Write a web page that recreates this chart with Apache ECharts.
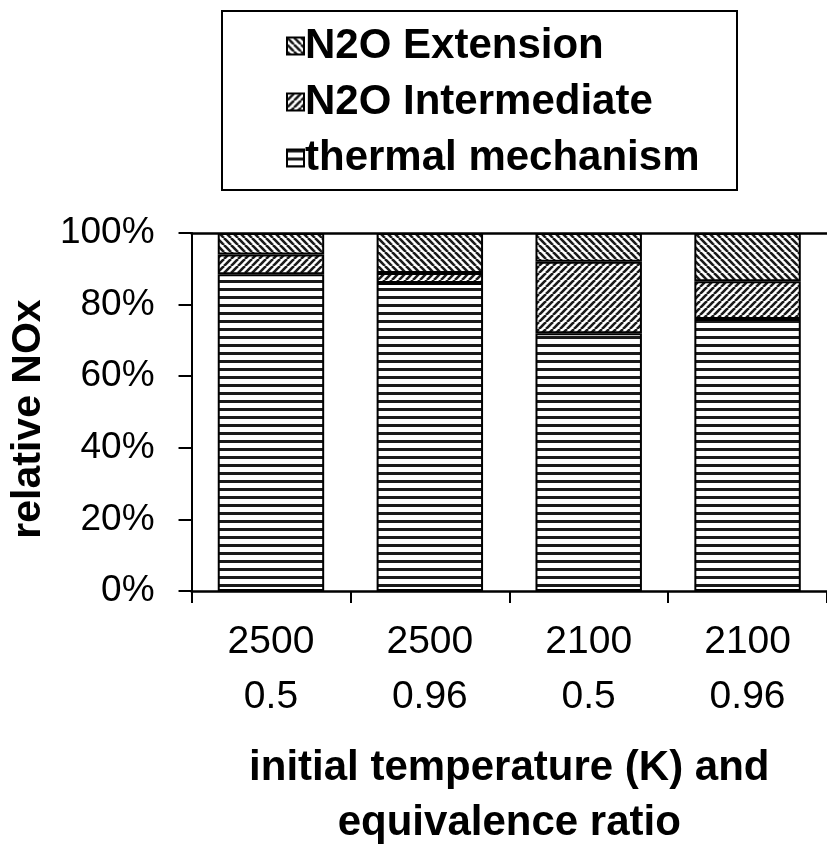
<!DOCTYPE html>
<html>
<head>
<meta charset="utf-8">
<script src="https://cdn.jsdelivr.net/npm/echarts@6/dist/echarts.min.js"></script>
<style>
html,body{margin:0;padding:0;background:#fff;overflow:hidden;}
#main{width:827px;height:852px;}
</style>
</head>
<body>
<div id="main"></div>
<script>
// ---- data ----
const temperatures = ['2500', '2500', '2100', '2100'];
const ratios = ['0.5', '0.96', '0.5', '0.96'];
const thermal = [88.5, 86, 72, 76];
const intermediate = [5.5, 2.8, 20, 10.5];
const extension = [6, 11.2, 8, 13.5];
const yTicks = [0, 20, 40, 60, 80, 100];
const seriesNames = ['thermal mechanism', 'N2O Intermediate', 'N2O Extension'];
const legendOrder = ['N2O Extension', 'N2O Intermediate', 'thermal mechanism'];

const categories = temperatures.map((t, i) => t + '\n' + ratios[i]);
const FONT = "'Liberation Sans', Arial, Helvetica, sans-serif";

// ---- hatch patterns ----
function hStripes() {
  const c = document.createElement('canvas');
  c.width = 8; c.height = 8;
  const g = c.getContext('2d');
  g.fillStyle = '#fff'; g.fillRect(0, 0, 8, 8);
  g.fillStyle = '#1a1a1a'; g.fillRect(0, 0, 8, 3);
  return c;
}
function diag(dir, p, w) {
  const c = document.createElement('canvas');
  c.width = p; c.height = p;
  const g = c.getContext('2d');
  g.fillStyle = '#fff'; g.fillRect(0, 0, p, p);
  g.strokeStyle = '#1a1a1a'; g.lineWidth = w;
  for (let k = -1; k <= 1; k++) {
    g.beginPath();
    if (dir > 0) { // '\'
      g.moveTo(k * p, 0); g.lineTo(k * p + p, p);
    } else {       // '/'
      g.moveTo(k * p, p); g.lineTo(k * p + p, 0);
    }
    g.stroke();
  }
  return c;
}
const patThermal = { image: hStripes(), repeat: 'repeat' };
const patInter = { image: diag(-1, 7, 2.6), repeat: 'repeat' };
const patExt = { image: diag(1, 7, 2.6), repeat: 'repeat' };
const patterns = [patThermal, patInter, patExt];
const values = [thermal, intermediate, extension];

const chart = echarts.init(document.getElementById('main'), null, { renderer: 'canvas', width: 827, height: 852 });

const series = seriesNames.map((name, i) => ({
  name: name,
  type: 'bar',
  stack: 'total',
  xAxisIndex: 0,
  barCategoryGap: '33%',
  data: values[i],
  itemStyle: { color: patterns[i], borderColor: '#000', borderWidth: 2 },
  emphasis: { disabled: true }
}));

chart.setOption({
  animation: false,
  backgroundColor: '#fff',
  textStyle: { fontFamily: FONT },
  grid: { left: 189, width: 644, top: 233, height: 370, containLabel: false },
  legend: {
    orient: 'vertical',
    left: 281,
    top: 20,
    itemWidth: 17,
    itemHeight: 17,
    itemGap: 14,
    icon: 'rect',
    selectedMode: false,
    data: legendOrder,
    textStyle: { fontFamily: FONT, fontSize: 42, fontWeight: 'bold', color: '#000', padding: [0, 0, 0, -4] }
  },
  graphic: [{
    type: 'rect',
    shape: { x: 222, y: 11, width: 515, height: 179 },
    style: { fill: 'none', stroke: '#000', lineWidth: 2 },
    z: 100
  }],
  xAxis: [{
    type: 'category',
    data: categories,
    position: 'bottom',
    axisLine: { show: true, lineStyle: { color: '#000', width: 2.5 } },
    axisTick: { show: true, length: 12, lineStyle: { color: '#000', width: 2 } },
    axisLabel: { color: '#000', fontFamily: FONT, fontSize: 39, lineHeight: 55, margin: 24 },
    name: 'initial temperature (K) and\nequivalence ratio',
    nameLocation: 'middle',
    nameGap: 150,
    nameTextStyle: { color: '#000', fontFamily: FONT, fontSize: 42, fontWeight: 'bold', lineHeight: 55 }
  }, {
    type: 'category',
    data: categories,
    position: 'top',
    axisLine: { show: true, lineStyle: { color: '#000', width: 2.5 } },
    axisTick: { show: false },
    axisLabel: { show: false }
  }],
  yAxis: {
    type: 'value',
    min: 0,
    max: 100,
    interval: 20,
    axisLine: { show: true, lineStyle: { color: '#000', width: 2 } },
    axisTick: { show: true, length: 13, lineStyle: { color: '#000', width: 2 } },
    splitLine: { show: false },
    axisLabel: {
      color: '#000', fontFamily: FONT, fontSize: 37, margin: 37,
      formatter: v => yTicks.includes(v) ? v + '%' : ''
    },
    name: 'relative NOx',
    nameLocation: 'middle',
    nameGap: 114,
    nameTextStyle: { color: '#000', fontFamily: FONT, fontSize: 41, fontWeight: 'bold', padding: [0, 14, 0, 0] }
  },
  series: series
});
</script>
</body>
</html>
